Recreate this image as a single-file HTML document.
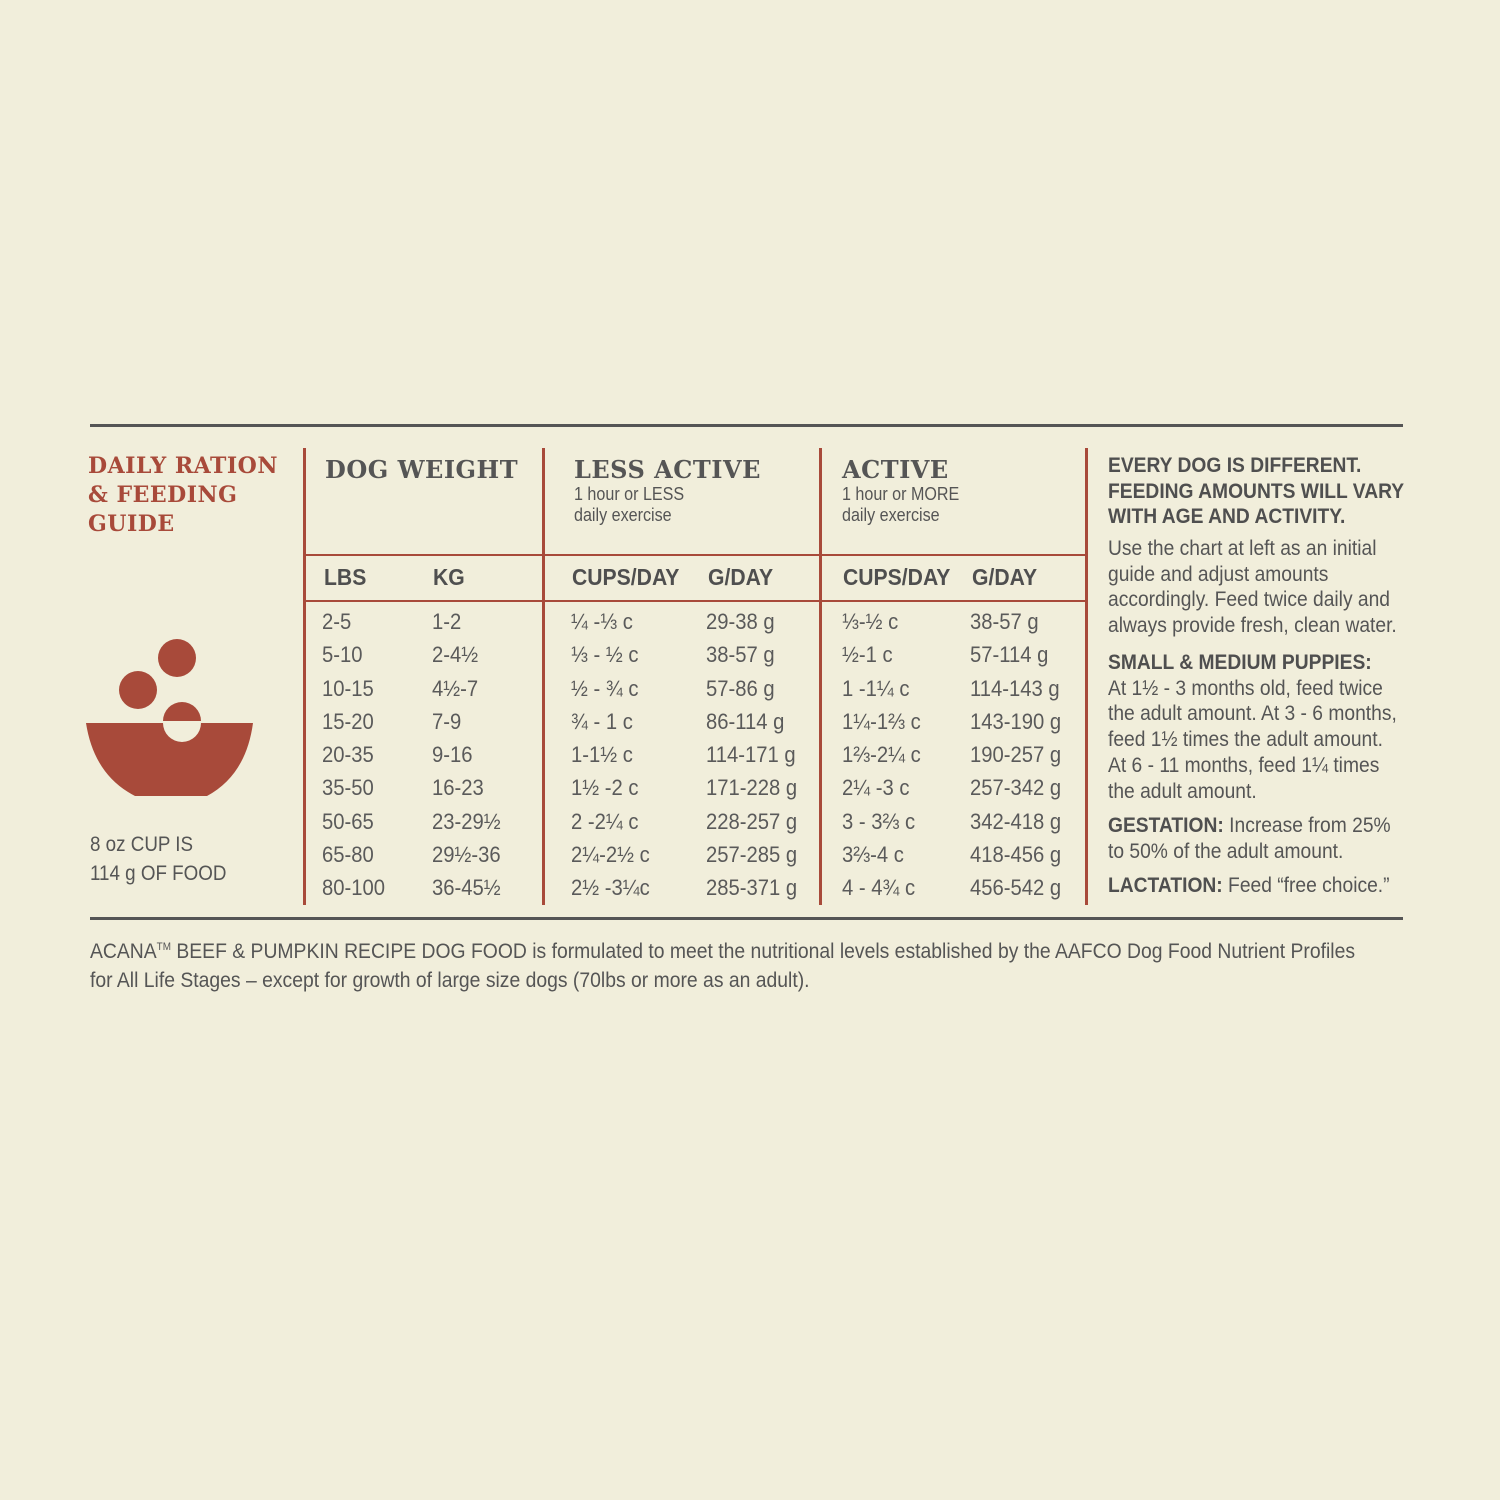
<!DOCTYPE html>
<html><head><meta charset="utf-8"><style>
body{margin:0;background:#f1eedb;}
#c{position:relative;width:1500px;height:1500px;background:#f1eedb;font-family:"Liberation Sans Narrow","Liberation Sans",sans-serif;color:#555;}
.t{position:absolute;white-space:nowrap;transform-origin:0 0;}
.s{transform:scaleX(0.92);}
.s9{transform:scaleX(0.895);}
.h{font-family:"DejaVu Serif","Liberation Serif",serif;font-weight:bold;font-size:23px;letter-spacing:0.5px;}
.r{font-size:22px;color:#5a5a5a;}
.b{font-weight:bold;font-size:23px;color:#4f4f4f;}
.ln{position:absolute;background:#a84a3a;}
.rt{font-size:21.5px;color:#555;line-height:25.7px;}
</style></head><body><div id="c">
<div style="position:absolute;left:90px;top:424px;width:1313px;height:3px;background:#555"></div>
<div style="position:absolute;left:90px;top:917px;width:1313px;height:3px;background:#555"></div>
<div class="ln" style="left:303px;top:448px;width:3px;height:457px"></div>
<div class="ln" style="left:542px;top:448px;width:3px;height:457px"></div>
<div class="ln" style="left:819px;top:448px;width:3px;height:457px"></div>
<div class="ln" style="left:1085px;top:448px;width:3px;height:457px"></div>
<div class="ln" style="left:304px;top:554px;width:782px;height:2px"></div>
<div class="ln" style="left:304px;top:600px;width:782px;height:2px"></div>

<div class="t h" style="left:88px;top:452px;color:#a84a3a;line-height:29px;font-size:22px">DAILY RATION<br>&amp; FEEDING<br>GUIDE</div>
<div class="t h" style="left:325px;top:455px;font-size:24px;color:#555">DOG WEIGHT</div>
<div class="t h" style="left:574px;top:455px;font-size:24px;color:#555">LESS ACTIVE</div>
<div class="t h" style="left:842px;top:455px;font-size:24px;color:#555">ACTIVE</div>
<div class="t s9" style="left:574px;top:484px;font-size:18px;line-height:21px;color:#555">1 hour or LESS<br>daily exercise</div>
<div class="t s9" style="left:842px;top:484px;font-size:18px;line-height:21px;color:#555">1 hour or MORE<br>daily exercise</div>

<div class="t b s" style="left:324px;top:564px">LBS</div>
<div class="t b s" style="left:433px;top:564px">KG</div>
<div class="t b s" style="left:572px;top:564px">CUPS/DAY</div>
<div class="t b s" style="left:708px;top:564px">G/DAY</div>
<div class="t b s" style="left:843px;top:564px">CUPS/DAY</div>
<div class="t b s" style="left:972px;top:564px">G/DAY</div>

<svg style="position:absolute;left:0;top:0" width="300" height="820">
<circle cx="177" cy="658" r="19" fill="#a84a3a"/>
<circle cx="138" cy="690" r="19" fill="#a84a3a"/>
<path d="M163 721 A19 19 0 0 1 201 721 Z" fill="#a84a3a"/>
<path d="M86 723 L163 723 A19 19 0 0 0 201 723 L253 723 Q246 775 207 796 L135 796 Q94 775 86 723 Z" fill="#a84a3a"/>
</svg>
<div class="t s9" style="left:90px;top:830px;font-size:21px;line-height:29px;color:#555">8 oz CUP IS<br>114 g OF FOOD</div>

<div class="t r s" style="left:322px;top:605px;line-height:33.3px">2-5<br>5-10<br>10-15<br>15-20<br>20-35<br>35-50<br>50-65<br>65-80<br>80-100</div>
<div class="t r s" style="left:432px;top:605px;line-height:33.3px">1-2<br>2-4½<br>4½-7<br>7-9<br>9-16<br>16-23<br>23-29½<br>29½-36<br>36-45½</div>
<div class="t r s" style="left:571px;top:605px;line-height:33.3px">¼ -⅓ c<br>⅓ - ½ c<br>½ - ¾ c<br>¾ - 1 c<br>1-1½ c<br>1½ -2 c<br>2 -2¼ c<br>2¼-2½ c<br>2½ -3¼c</div>
<div class="t r s" style="left:706px;top:605px;line-height:33.3px">29-38 g<br>38-57 g<br>57-86 g<br>86-114 g<br>114-171 g<br>171-228 g<br>228-257 g<br>257-285 g<br>285-371 g</div>
<div class="t r s" style="left:842px;top:605px;line-height:33.3px">⅓-½ c<br>½-1 c<br>1 -1¼ c<br>1¼-1⅔ c<br>1⅔-2¼ c<br>2¼ -3 c<br>3 - 3⅔ c<br>3⅔-4 c<br>4 - 4¾ c</div>
<div class="t r s" style="left:970px;top:605px;line-height:33.3px">38-57 g<br>57-114 g<br>114-143 g<br>143-190 g<br>190-257 g<br>257-342 g<br>342-418 g<br>418-456 g<br>456-542 g</div>

<div class="t s9" style="left:1108px;top:453px;font-weight:bold;font-size:21.5px;line-height:25.7px;color:#4f4f4f">EVERY DOG IS DIFFERENT.<br>FEEDING AMOUNTS WILL VARY<br>WITH AGE AND ACTIVITY.</div>
<div class="t rt s9" style="left:1108px;top:536px">Use the chart at left as an initial<br>guide and adjust amounts<br>accordingly. Feed twice daily and<br>always provide fresh, clean water.</div>
<div class="t rt s9" style="left:1108px;top:650px"><b style="color:#4f4f4f">SMALL &amp; MEDIUM PUPPIES:</b><br>At 1½ - 3 months old, feed twice<br>the adult amount. At 3 - 6 months,<br>feed 1½ times the adult amount.<br>At 6 - 11 months, feed 1¼ times<br>the adult amount.</div>
<div class="t rt s9" style="left:1108px;top:813px"><b style="color:#4f4f4f">GESTATION:</b> Increase from 25%<br>to 50% of the adult amount.</div>
<div class="t rt s9" style="left:1108px;top:873px"><b style="color:#4f4f4f">LACTATION:</b> Feed “free choice.”</div>

<div class="t" style="left:90px;top:933px;font-size:21.5px;line-height:29px;color:#555;transform:scaleX(0.9)">ACANA<sup style="font-size:11px">TM</sup> BEEF &amp; PUMPKIN RECIPE DOG FOOD is formulated to meet the nutritional levels established by the AAFCO Dog Food Nutrient Profiles<br>for All Life Stages – except for growth of large size dogs (70lbs or more as an adult).</div>
</div></body></html>
